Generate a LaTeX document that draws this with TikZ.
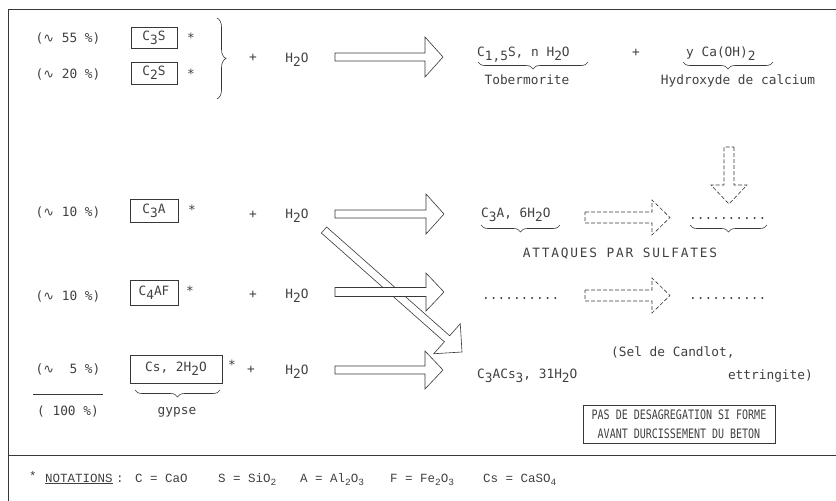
\documentclass[tikz,border=0pt]{standalone}
\usepackage{fontspec}
\newfontfamily\tw{DejaVu Sans Mono}
\newfontfamily\twsp[LetterSpace=14]{DejaVu Sans Mono}
\newfontfamily\djv{DejaVu Sans}
\newfontfamily\cour{Liberation Mono}
\usetikzlibrary{calc,decorations.pathreplacing}
\newcommand\lo[1]{\raisebox{-0.32em}{#1}}
\newcommand\losm[1]{\raisebox{-0.28em}{\fontsize{9.5}{9.5}\selectfont #1}}
\newcommand\wave{{\djv ∿}}
\newcommand\blockarrow[6][]{%
  \draw[ink,#1] let \p1=(#2), \p2=(#3),
     \n1={atan2(\y2-\y1,\x2-\x1)}, \n2={veclen(\x2-\x1,\y2-\y1)} in
     ($(\p1)+(\n1+90:#4pt)$)
  -- ($(\p1)+(\n1:\n2-#6pt)+(\n1+90:#4pt)$)
  -- ($(\p1)+(\n1:\n2-#6pt)+(\n1+90:#5pt)$)
  -- (\p2)
  -- ($(\p1)+(\n1:\n2-#6pt)+(\n1-90:#5pt)$)
  -- ($(\p1)+(\n1:\n2-#6pt)+(\n1-90:#4pt)$)
  -- ($(\p1)+(\n1-90:#4pt)$) -- cycle;}
\begin{document}
\begin{tikzpicture}[x=1pt,y=-1pt,
  ink/.style={draw=black!78, line width=0.6pt},
  txt/.style={font=\tw\fontsize{12.8}{15}\selectfont, text=black!75, inner sep=0pt, anchor=base},
  txtw/.style={txt, anchor=base west},
  chem/.style={font=\tw\fontsize{12.8}{15}\selectfont, text=black!75, ink, inner sep=0pt},
  brcm/.style={ink, decorate, decoration={brace, mirror, amplitude=7pt}},
  note/.style={font=\cour\fontsize{12.5}{15}\selectfont, text=black!75, inner sep=0pt, anchor=base west},
  dsh/.style={dash pattern=on 4pt off 2pt},
]
\useasboundingbox (0,0) rectangle (836,501);
% frame
\draw[ink] (836,9) -- (8,9) -- (8,501);
\draw[ink] (8,455) -- (836,455);

% ---------- row 1 and 2 ----------
\node[txt] (p1) at (68,42) {(\wave{} 55 \%)};
\node[txt] (p2) at (68,78) {(\wave{} 20 \%)};
\node[chem, minimum width=46pt, minimum height=21pt] (c3s) at (154,37.5) {C\lo{3}S};
\node[chem, minimum width=46pt, minimum height=22pt] (c2s) at (154,73) {C\lo{2}S};
\node[txt] (st1) at (191,42) {*};
\node[txt] (st2) at (191,78) {*};
\coordinate (bt) at (217,18);
\coordinate (bb) at (217,99);
\draw[ink, decorate, decoration={brace, amplitude=9pt}] (bt) -- (bb);
\node[txt] (pl1) at (253,61) {+};
\node[txt] (w1) at (297,62) {H\lo{2}O};
\coordinate (a1s) at (335,57);
\coordinate (a1e) at (443,57);
\blockarrow{a1s}{a1e}{4}{20}{18}
\node[txtw] (tob) at (477,56) {C\lo{1,5}S, n H\lo{2}O};
\node[txt] (pl2) at (636,56) {+};
\node[txtw] (cah) at (686,56) {y Ca(OH)\lo{2}};
\coordinate (u1a) at (478,62); \coordinate (u1b) at (588,62);
\draw[brcm] (u1a) -- (u1b);
\coordinate (u2a) at (683,62); \coordinate (u2b) at (773,62);
\draw[brcm] (u2a) -- (u2b);
\node[txt] (tobl) at (527,84) {Tobermorite};
\node[txt] (cahl) at (738,84) {Hydroxyde de calcium};

% ---------- row 3 ----------
\node[txt] (p3) at (68,216) {(\wave{} 10 \%)};
\node[chem, minimum width=48pt, minimum height=23pt] (c3a) at (154,210.5) {C\lo{3}A};
\node[txt] (st3) at (192,214) {*};
\node[txt] (pl3) at (253,218) {+};
\node[txt] (w3) at (297,218) {H\lo{2}O};
\coordinate (a3s) at (335,214);
\coordinate (a3e) at (444,214);
\blockarrow{a3s}{a3e}{4}{20}{18}
\node[txtw] (c3ah) at (481,217) {C\lo{3}A, 6H\lo{2}O};
\coordinate (d3s) at (585,217.5);
\coordinate (d3e) at (670,217.5);
\blockarrow[dsh]{d3s}{d3e}{5.5}{17.5}{18}
\node[txtw] (dots3) at (689,219) {..........};
\coordinate (u3a) at (481,225); \coordinate (u3b) at (560,225);
\draw[brcm] (u3a) -- (u3b);
\coordinate (u4a) at (690,225); \coordinate (u4b) at (767,225);
\draw[brcm] (u4a) -- (u4b);
\node[txt, font=\twsp\fontsize{12.8}{15}\selectfont] (att) at (620,257) {ATTAQUES PAR SULFATES};
\coordinate (vs) at (729,147);
\coordinate (ve) at (729,204);
\blockarrow[dsh]{vs}{ve}{5}{18}{19}

% diagonal arrow (drawn before the C4AF arrow, which hides it)
\coordinate (dgs) at (324,230);
\coordinate (dge) at (462,352);
\blockarrow{dgs}{dge}{4}{20}{20}

% ---------- row 4 ----------
\node[txt] (p4) at (68,300) {(\wave{} 10 \%)};
\node[chem, minimum width=48pt, minimum height=25pt] (c4af) at (154,292.5) {C\lo{4}AF};
\node[txt] (st4) at (190,295) {*};
\node[txt] (pl4) at (253,298) {+};
\node[txt] (w4) at (297,298) {H\lo{2}O};
\coordinate (a4s) at (335,292);
\coordinate (a4e) at (444,292);
\blockarrow[fill=white]{a4s}{a4e}{4.5}{19}{18}
\node[txtw] (dots4a) at (482,299) {..........};
\coordinate (d4s) at (585,295.5);
\coordinate (d4e) at (670,295.5);
\blockarrow[dsh]{d4s}{d4e}{5.5}{17.5}{18}
\node[txtw] (dots4b) at (689,299) {..........};

% ---------- row 5 ----------
\node[txt] (p5) at (68,373) {(\wave\ \ 5 \%)};
\coordinate (la) at (33,394); \coordinate (lb) at (103,394);
\draw[ink] (la) -- (lb);
\node[txt] (p6) at (68,415) {( 100 \%)};
\node[chem, minimum width=92pt, minimum height=28pt] (cs) at (176,369) {Cs, 2H\lo{2}O};
\node[txt] (st5) at (232,369) {*};
\node[txt] (pl5) at (251,373) {+};
\node[txt] (w5) at (297,374) {H\lo{2}O};
\coordinate (a5s) at (335,370);
\coordinate (a5e) at (443,370);
\blockarrow{a5s}{a5e}{4}{19}{18}
\coordinate (u5a) at (135,390); \coordinate (u5b) at (220,390);
\draw[brcm] (u5a) -- (u5b);
\node[txt] (gyp) at (177,414) {gypse};
\node[txtw] (ett) at (477,378) {C\lo{3}ACs\lo{3}, 31H\lo{2}O};
\node[txtw] (sel) at (611,356) {(Sel de Candlot,};
\node[txt, anchor=base east] (ett2) at (813,379) {ettringite)};
\node[ink, font=\tw\fontsize{10}{19}\selectfont, text=black!75, align=center,
      minimum width=192pt, minimum height=38pt, inner sep=0pt] (pas) at (679,424)
      {\scalebox{1}[1.3]{PAS DE DESAGREGATION SI FORME}\\\scalebox{1}[1.3]{AVANT DURCISSEMENT DU BETON}};

% ---------- notations ----------
\node[note] (nst) at (29,480) {*};
\node[note] (nn) at (45,482) {\underline{NOTATIONS}};
\node[note] (ncol) at (116,482) {:};
\node[note] (nc) at (135,482) {C = CaO};
\node[note] (ns) at (218,482) {S = SiO\losm{2}};
\node[note] (na) at (300,482) {A = Al\losm{2}O\losm{3}};
\node[note] (nf) at (390,482) {F = Fe\losm{2}O\losm{3}};
\node[note] (ncs) at (483,482) {Cs = CaSO\losm{4}};
\end{tikzpicture}
\end{document}
